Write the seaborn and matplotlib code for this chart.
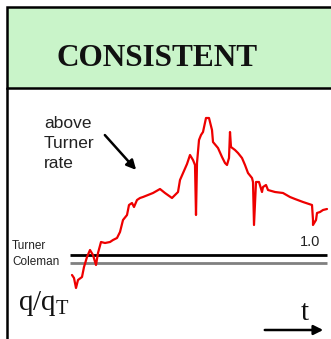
import matplotlib
matplotlib.use('Agg')
import matplotlib.pyplot as plt
import seaborn as sns
import pandas as pd
from matplotlib.patches import Rectangle

# flow rate relative to Turner critical rate
t_vals = [-1, 1, 3, 5, 9, 11, 14, 17, 20, 23,
          25, 28, 32, 37, 40, 44, 47, 50, 54, 56,
          59, 61, 64, 67, 70, 75, 80, 87, 92, 99,
          105, 107, 114, 117,
          120, 122, 123, 124, 126, 128, 130, 133, 136, 139,
          140, 145, 149, 152, 154, 156, 157, 158, 162, 165,
          169, 172, 175, 179, 180, 181, 183, 186, 189, 190,
          193, 195, 202, 210, 217, 222, 230, 239, 240, 240,
          243, 244, 247, 250, 254]
q_ratio = [0.60, 0.54, 0.34, 0.50, 0.56, 0.76, 0.96, 1.10, 1.00, 0.80,
           1.04, 1.26, 1.24, 1.26, 1.30, 1.34, 1.46, 1.70, 1.80, 2.00,
           2.04, 1.96, 2.10, 2.14, 2.16, 2.20, 2.24, 2.32, 2.24, 2.14,
           2.26, 2.50, 2.82, 3.00,
           2.90, 2.80, 1.80, 2.84, 3.30, 3.40, 3.46, 3.74, 3.74, 3.50,
           3.26, 3.14, 2.96, 2.84, 2.80, 2.94, 3.46, 3.16, 3.10, 3.04,
           2.94, 2.80, 2.64, 2.54, 2.46, 1.60, 2.46, 2.46, 2.26, 2.36,
           2.40, 2.30, 2.26, 2.24, 2.16, 2.12, 2.06, 2.00, 1.70, 1.60,
           1.70, 1.84, 1.86, 1.90, 1.92]
turner_rate = 1.0
coleman_rate = 0.84
note_lines = ['above', 'Turner', 'rate']

df = pd.DataFrame({'t': t_vals, 'q': q_ratio})

sns.set_style('white')
W, H = 331, 339
fig = plt.figure(figsize=(W / 100, H / 100), dpi=100)
ax = fig.add_axes([0, 0, 1, 1])
ax.set_xlim(-73, 258)
ax.set_ylim(-0.68, 6.1)
ax.axis('off')


def fx(px):
    return px / W


def fy(py):
    return 1 - py / H


# header box
ax.add_patch(Rectangle((fx(7), fy(88)), 1.2, fy(7) - fy(88), transform=ax.transAxes,
                       facecolor='#c9f4c9', edgecolor='black', linewidth=1.8, clip_on=False))
ax.plot([fx(7), fx(7)], [fy(88), 0], color='black', lw=1.8, transform=ax.transAxes)
ax.text(fx(157), fy(58), 'CONSISTENT', transform=ax.transAxes, ha='center', va='center',
        fontsize=22.5, fontweight='bold', family='Liberation Serif', color='#111111')

# rate lines
ax.hlines(turner_rate, -3, 254, color='black', lw=2)
ax.hlines(coleman_rate, -3, 254, color='#808080', lw=2)
sns.lineplot(data=df, x='t', y='q', ax=ax, color='#ee0000', lw=1.6, sort=False,
             estimator=None, legend=False)

ax.text(fx(12), fy(246), 'Turner', transform=ax.transAxes, va='center',
        fontsize=8.5, family='Liberation Sans', color='#222222')
ax.text(fx(12), fy(262), 'Coleman', transform=ax.transAxes, va='center',
        fontsize=8.5, family='Liberation Sans', color='#222222')
ax.text(fx(320), fy(242), '1.0', transform=ax.transAxes, ha='right', va='center',
        fontsize=10.5, family='Liberation Sans', color='#222222')

for i, line in enumerate(note_lines):
    ax.text(fx(44), fy(123 + 20 * i), line, transform=ax.transAxes, va='center',
            fontsize=12.5, family='Liberation Sans', color='#222222')
ax.annotate('', xy=(65, 2.66), xytext=(30, 3.44),
            arrowprops=dict(arrowstyle='-|>', color='black', lw=1.8, mutation_scale=14))

plt.rcParams['mathtext.fontset'] = 'custom'
plt.rcParams['mathtext.rm'] = 'Liberation Serif'
ax.text(fx(18), fy(304), r'$\mathregular{q/q_T}$', transform=ax.transAxes, va='center',
        fontsize=21, family='Liberation Serif', color='#111111')
ax.text(fx(305), fy(313), 't', transform=ax.transAxes, ha='center', va='center',
        fontsize=21, family='Liberation Serif', color='#111111')
ax.annotate('', xy=(fx(326), fy(330)), xytext=(fx(262), fy(330)), xycoords='axes fraction',
            textcoords='axes fraction',
            arrowprops=dict(arrowstyle='-|>', color='black', lw=1.8, mutation_scale=14))

fig.savefig('out.png', dpi=100)
